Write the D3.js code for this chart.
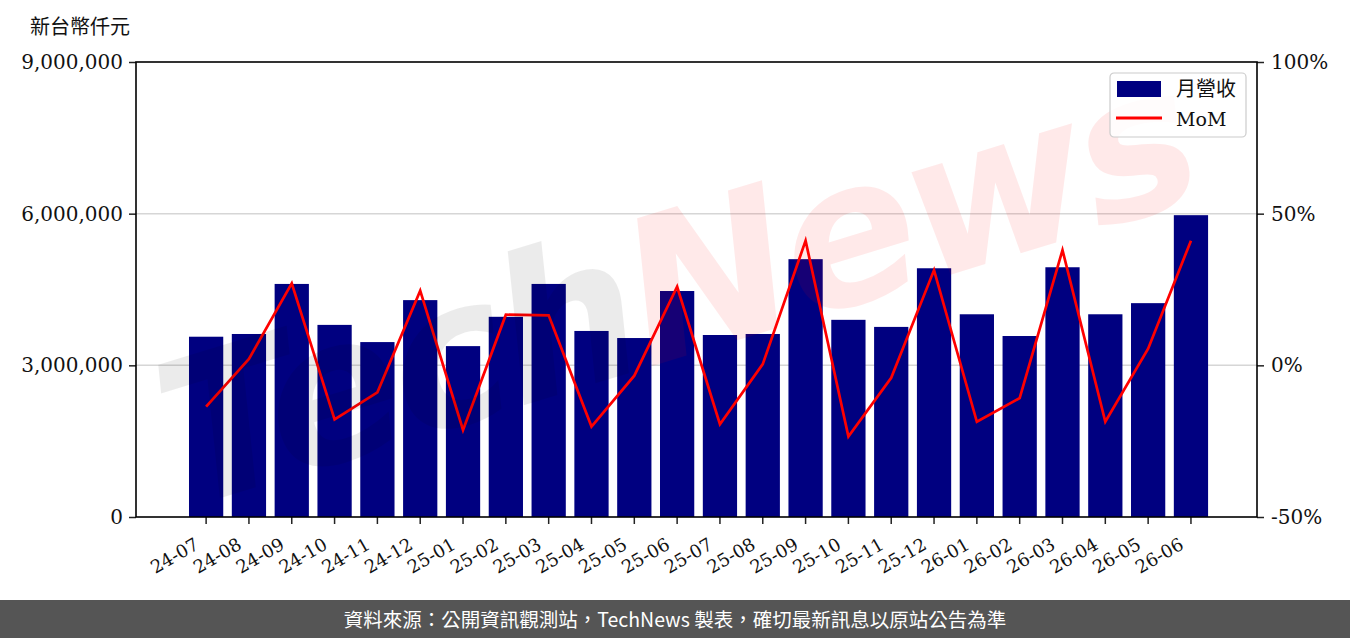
<!DOCTYPE html>
<html>
<head>
<meta charset="utf-8">
<script src="https://cdn.jsdelivr.net/npm/d3@7"></script>
<style>
  html, body { margin: 0; padding: 0; background: #fff; }
  svg { display: block; }
</style>
</head>
<body>
<svg id="chart" width="1350" height="638"></svg>
<script>
// monthly revenue (thousand NTD) and month-over-month change
const months = ["24-07","24-08","24-09","24-10","24-11","24-12","25-01","25-02","25-03","25-04","25-05","25-06",
                "25-07","25-08","25-09","25-10","25-11","25-12","26-01","26-02","26-03","26-04","26-05","26-06"]
const revenue = [3566000,3620000,4610000,3800000,3460000,4290000,3380000,3960000,4610000,3680000,3540000,4470000,
                 3600000,3620000,5100000,3900000,3760000,4920000,4010000,3580000,4940000,4010000,4230000,5970000]
const mom = [-13.6,2.1,27.0,-17.8,-8.9,24.6,-21.3,16.7,16.5,-20.2,-3.4,25.9,
             -19.4,0.4,41.1,-23.5,-4.1,31.4,-18.6,-10.8,38.0,-18.6,5.5,41.1]
const leftTicks = [0,3000000,6000000,9000000]
const rightTicks = [-50,0,50,100]

const width = 1350, height = 638
const margin = {top: 62, right: 93, bottom: 121, left: 136}
const serif = "'DejaVu Serif', 'Liberation Serif', serif"
const cjk = "'Noto Sans CJK TC', 'Noto Sans CJK SC', sans-serif"

const svg = d3.select("#chart")

const x = d3.scaleBand()
  .domain(months)
  .range([margin.left, width - margin.right])
  .paddingInner(0.2)
  .paddingOuter(1.19)
  .align(0.52)

const y = d3.scaleLinear()
  .domain([0, 9000000])
  .range([height - margin.bottom, margin.top])

const y2 = d3.scaleLinear()
  .domain([-50, 100])
  .range([height - margin.bottom, margin.top])

// grid
svg.append("g")
  .selectAll("line")
  .data([3000000, 6000000])
  .join("line")
    .attr("x1", margin.left).attr("x2", width - margin.right)
    .attr("y1", d => y(d)).attr("y2", d => y(d))
    .attr("stroke", "#d6d6d6")
    .attr("stroke-width", 1.5)

// bars
svg.append("g")
  .attr("fill", "#000080")
  .selectAll("rect")
  .data(revenue)
  .join("rect")
    .attr("x", (d, i) => x(months[i]))
    .attr("width", x.bandwidth())
    .attr("y", d => y(d))
    .attr("height", d => y(0) - y(d))

// MoM line
const line = d3.line()
  .x((d, i) => x(months[i]) + x.bandwidth() / 2)
  .y(d => y2(d))

svg.append("path")
  .datum(mom)
  .attr("fill", "none")
  .attr("stroke", "#ff0000")
  .attr("stroke-width", 2.7)
  .attr("stroke-linejoin", "miter")
  .attr("d", line)

// watermark (faint, drawn over the plot)
const wm = svg.append("text")
  .attr("transform", "translate(680,300) rotate(-17)")
  .attr("text-anchor", "middle")
  .attr("dominant-baseline", "middle")
  .attr("font-family", "'DejaVu Sans', sans-serif")
  .attr("font-style", "italic")
  .attr("font-weight", "bold")
  .attr("font-size", 200)
  .attr("letter-spacing", -6)
wm.append("tspan").text("Tech").attr("fill", "#000").attr("fill-opacity", 0.08)
wm.append("tspan").text("News").attr("fill", "#ff0000").attr("fill-opacity", 0.085)

// axes
const fmt = d3.format(",")
const gLeft = svg.append("g")
  .attr("transform", `translate(${margin.left},0)`)
  .call(d3.axisLeft(y).tickValues(leftTicks).tickFormat(fmt).tickSize(7).tickPadding(6))
const gRight = svg.append("g")
  .attr("transform", `translate(${width - margin.right},0)`)
  .call(d3.axisRight(y2).tickValues(rightTicks).tickFormat(d => d + "%").tickSize(7).tickPadding(7))
const gBottom = svg.append("g")
  .attr("transform", `translate(0,${height - margin.bottom})`)
  .call(d3.axisBottom(x).tickSize(7))

;[gLeft, gRight, gBottom].forEach(g => {
  g.select(".domain").remove()
  g.selectAll(".tick line").attr("stroke", "#222").attr("stroke-width", 1.5)
  g.selectAll(".tick text")
    .attr("font-family", serif)
    .attr("font-size", 20)
    .attr("fill", "#111")
})
gBottom.selectAll(".tick text")
  .attr("font-size", 18)
  .attr("text-anchor", "end")
  .attr("x", 0).attr("y", 0).attr("dy", null)
  .attr("transform", "translate(-6,31) rotate(-30)")

// frame
svg.append("rect")
  .attr("x", margin.left).attr("y", margin.top)
  .attr("width", width - margin.left - margin.right)
  .attr("height", height - margin.top - margin.bottom)
  .attr("fill", "none")
  .attr("stroke", "#000")
  .attr("stroke-width", 1.6)

// y unit label
svg.append("text")
  .attr("x", 30).attr("y", 34)
  .attr("font-family", cjk)
  .attr("font-size", 20)
  .attr("fill", "#111")
  .text("新台幣仟元")

// legend
const lg = svg.append("g").attr("transform", "translate(1110,73)")
lg.append("rect")
  .attr("width", 136).attr("height", 64).attr("rx", 4)
  .attr("fill", "#fff").attr("fill-opacity", 0.85)
  .attr("stroke", "#cccccc").attr("stroke-width", 1.2)
lg.append("rect")
  .attr("x", 7).attr("y", 8).attr("width", 44).attr("height", 16)
  .attr("fill", "#000080")
lg.append("line")
  .attr("x1", 6).attr("x2", 52).attr("y1", 45).attr("y2", 45)
  .attr("stroke", "#ff0000").attr("stroke-width", 3)
lg.append("text")
  .attr("x", 66).attr("y", 23)
  .attr("font-family", cjk).attr("font-size", 20).attr("fill", "#111")
  .text("月營收")
lg.append("text")
  .attr("x", 66).attr("y", 53)
  .attr("font-family", serif).attr("font-size", 19).attr("fill", "#111")
  .text("MoM")

// footer
svg.append("rect")
  .attr("x", 0).attr("y", 600).attr("width", width).attr("height", 38)
  .attr("fill", "#555555")
svg.append("text")
  .attr("x", width / 2).attr("y", 627)
  .attr("text-anchor", "middle")
  .attr("font-family", cjk)
  .attr("font-size", 19.5)
  .attr("fill", "#ffffff")
  .text("資料來源：公開資訊觀測站，TechNews 製表，確切最新訊息以原站公告為準")
</script>
</body>
</html>
